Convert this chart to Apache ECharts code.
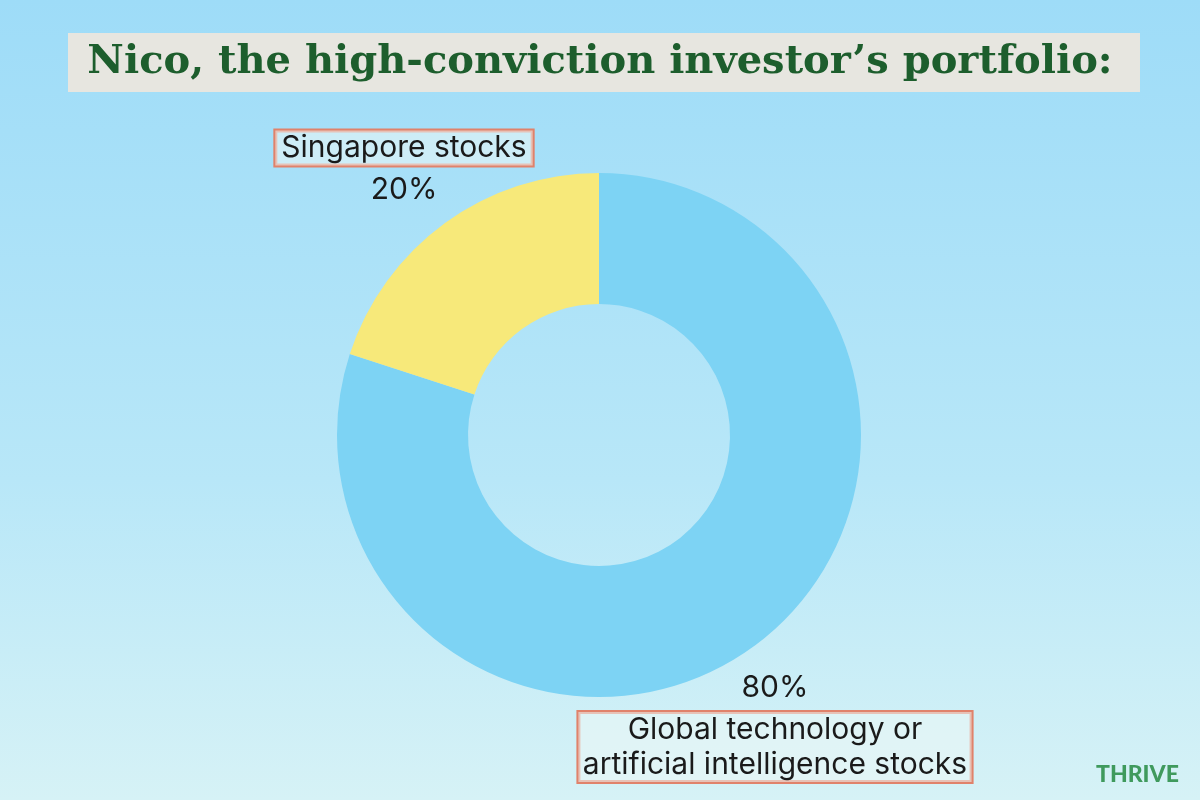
<!DOCTYPE html>
<html>
<head>
<meta charset="utf-8">
<style>
  html, body { margin: 0; padding: 0; }
  #chart { width: 1200px; height: 800px; }
</style>
<script src="https://cdn.jsdelivr.net/npm/echarts@6/dist/echarts.min.js"></script>
</head>
<body>
<div id="chart"></div>
<script>
// data
const categories = ['Global technology or\nartificial intelligence stocks', 'Singapore stocks']
const shares = [80, 20]
const sliceColors = ['#7dd3f4', '#f7e97a']

// label spots (name box / percentage), by slice
const nameSpots = [[775, 747], [404, 148]]
const pctSpots = [[775, 688], [404, 190]]

const chart = echarts.init(document.getElementById('chart'))

const pieData = categories.map((name, i) => ({
    name: name,
    value: shares[i],
    itemStyle: { color: sliceColors[i] }
}))

const textFont = 'Inter, "Noto Sans", sans-serif'

const option = {
    backgroundColor: {
        type: 'linear', x: 0, y: 0, x2: 0, y2: 1,
        colorStops: [
            { offset: 0, color: '#9edcf8' },
            { offset: 0.6, color: '#b8e7f8' },
            { offset: 1, color: '#d6f2f6' }
        ]
    },
    title: {
        text: 'Nico, the high-conviction investor\u2019s portfolio:',
        left: 'center',
        top: 38,
        textStyle: {
            fontFamily: '"DejaVu Serif", serif',
            fontWeight: 'bold',
            fontSize: 40,
            color: '#1d5e2d'
        }
    },
    graphic: [
        {
            type: 'rect',
            z: -1,
            shape: { x: 68, y: 33, width: 1072, height: 59 },
            style: { fill: '#e7e6e0' }
        },
        {
            type: 'text',
            left: 1096,
            top: 763,
            style: {
                text: 'THRIVE',
                fill: '#3f9a5d',
                font: '900 23px Lato, "DejaVu Sans", sans-serif'
            }
        }
    ],
    series: [
        {
            type: 'pie',
            center: [599, 435],
            radius: [131, 262],
            startAngle: 90,
            silent: true,
            data: pieData,
            label: {
                show: true,
                formatter: '{b}',
                fontFamily: textFont,
                fontSize: 30,
                lineHeight: 35,
                color: '#1a1a1a',
                align: 'center',
                overflow: 'none',
                backgroundColor: 'rgba(236,248,246,0.55)',
                borderColor: '#e0826b',
                borderWidth: 2,
                padding: [0, 6, 0, 6]
            },
            labelLine: { show: false },
            labelLayout: (p) => ({
                x: nameSpots[p.dataIndex][0],
                y: nameSpots[p.dataIndex][1],
                align: 'center',
                verticalAlign: 'middle'
            })
        },
        {
            type: 'pie',
            center: [599, 435],
            radius: [131, 262],
            startAngle: 90,
            silent: true,
            z: 3,
            data: shares.map((v, i) => ({ name: categories[i], value: v })),
            itemStyle: { color: 'rgba(0,0,0,0)' },
            label: {
                show: true,
                formatter: '{c}%',
                fontFamily: textFont,
                fontSize: 30,
                color: '#1a1a1a',
                overflow: 'none'
            },
            labelLine: { show: false },
            labelLayout: (p) => ({
                x: pctSpots[p.dataIndex][0],
                y: pctSpots[p.dataIndex][1],
                align: 'center',
                verticalAlign: 'middle'
            })
        }
    ]
}

chart.setOption(option)
window.addEventListener('resize', () => chart.resize())
</script>
</body>
</html>
